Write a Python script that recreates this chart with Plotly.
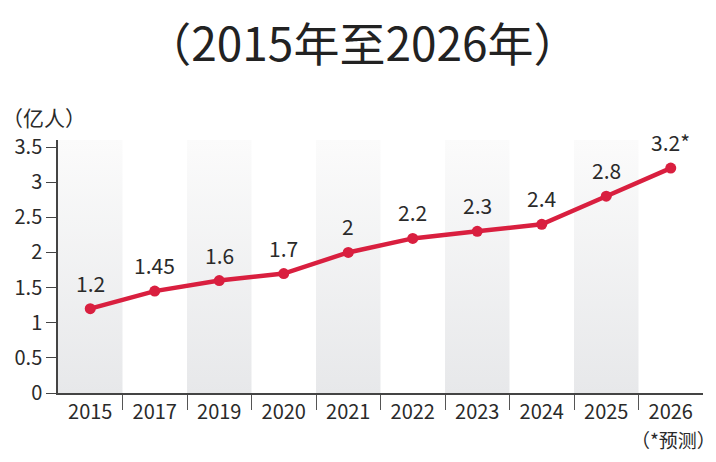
import plotly.graph_objects as go

years = ["2015", "2017", "2019", "2020", "2021", "2022", "2023", "2024", "2025", "2026"]
users = [1.2, 1.45, 1.6, 1.7, 2, 2.2, 2.3, 2.4, 2.8, 3.2]
value_labels = ["1.2", "1.45", "1.6", "1.7", "2", "2.2", "2.3", "2.4", "2.8", "3.2*"]
y_ticks = [0, 0.5, 1, 1.5, 2, 2.5, 3, 3.5]
y_tick_text = ["0", "0.5", "1", "1.5", "2", "2.5", "3", "3.5"]

FONT = "Noto Sans CJK SC"
RED = "#d91f3f"
Y_TOP = 3.6

xpos = list(range(len(years)))

fig = go.Figure()

# shaded bands behind every other year
for i in xpos[::2]:
    fig.add_trace(go.Scatter(
        x=[i - 0.5, i + 0.5, i + 0.5, i - 0.5, i - 0.5],
        y=[0, 0, Y_TOP, Y_TOP, 0],
        mode="lines",
        line=dict(width=0),
        fill="toself",
        fillgradient=dict(type="vertical",
                          colorscale=[[0, "#e7e8ea"], [1, "#fbfbfb"]]),
        hoverinfo="skip",
        showlegend=False,
    ))

fig.add_trace(go.Scatter(
    x=xpos,
    y=users,
    mode="lines+markers",
    line=dict(color=RED, width=4.5),
    marker=dict(color=RED, size=11),
    showlegend=False,
    cliponaxis=False,
))

for i, (v, lab) in enumerate(zip(users, value_labels)):
    fig.add_annotation(x=i, y=v, text=lab, showarrow=False, yshift=26,
                       font=dict(family=FONT, size=21, color="#2a2a2a"))

# the page adds ~8px body margin, so the margins are offset to compensate
fig.update_layout(
    width=716, height=462,
    margin=dict(l=50, r=21, t=132, b=77),
    paper_bgcolor="white",
    plot_bgcolor="white",
    font=dict(family=FONT, color="#2a2a2a"),
    title=dict(text="（2015年至2026年）", x=0.495, xanchor="center",
               y=0.92, yanchor="middle",
               font=dict(family=FONT, size=46, color="#222222")),
)

fig.update_xaxes(
    range=[-0.5, 9.5], automargin=False,
    tickvals=xpos, ticktext=years,
    ticks="", showgrid=False, zeroline=False,
    showline=True, linecolor="#444444", linewidth=1.5,
    tickfont=dict(family=FONT, size=20, color="#2a2a2a"),
    minor=dict(tickvals=[i + 0.5 for i in xpos[:-1]], ticks="outside",
               ticklen=15, tickcolor="#555555", tickwidth=1, showgrid=False),
    fixedrange=True,
)
fig.update_yaxes(
    range=[0, Y_TOP], automargin=False,
    tickvals=y_ticks, ticktext=y_tick_text,
    ticks="outside", ticklen=10, tickcolor="#444444", tickwidth=1.2,
    showgrid=False, zeroline=False,
    showline=True, linecolor="#444444", linewidth=1.5,
    tickfont=dict(family=FONT, size=20, color="#2a2a2a"),
    fixedrange=True,
)

fig.add_annotation(xref="paper", yref="paper", x=-0.09, y=1.025,
                   xanchor="left", yanchor="bottom", showarrow=False,
                   text="（亿人）", font=dict(family=FONT, size=21, color="#2a2a2a"))
fig.add_annotation(xref="x", yref="paper", x=9.05, y=-0.122,
                   xanchor="center", yanchor="top", showarrow=False,
                   text="（*预测）", font=dict(family=FONT, size=19, color="#2a2a2a"))
fig.add_annotation(xref="paper", yref="paper", x=1.011, y=-0.067,
                   xanchor="left", yanchor="middle", showarrow=False,
                   text="年", font=dict(family=FONT, size=19, color="#2a2a2a"))

fig.write_html("out.html")
